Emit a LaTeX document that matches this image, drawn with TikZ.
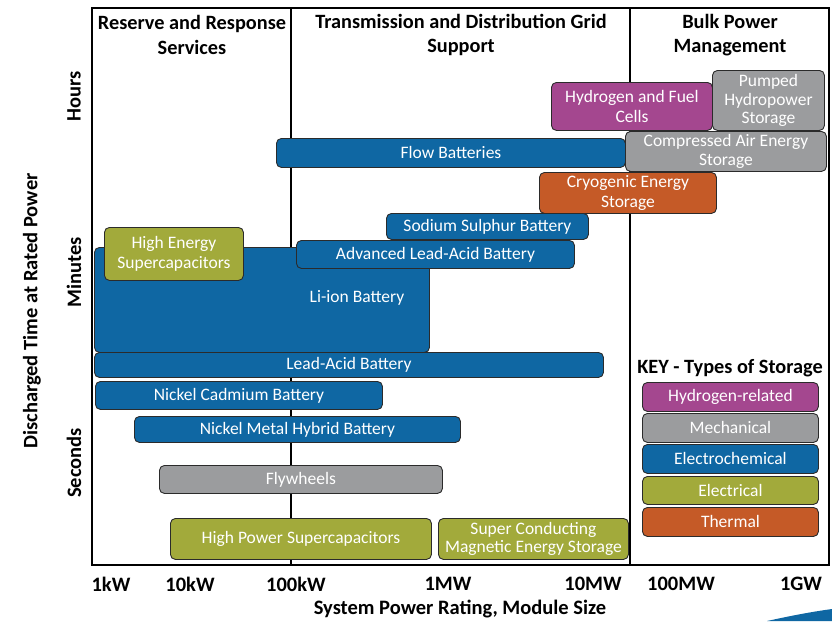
\documentclass[tikz,border=0pt]{standalone}
\usepackage{fontspec}
\setmainfont{Carlito}
\definecolor{cblue}{HTML}{0F67A3}
\definecolor{colive}{HTML}{A2AA3B}
\definecolor{cgray}{HTML}{9B9C9E}
\definecolor{cmag}{HTML}{A4478F}
\definecolor{corange}{HTML}{C55A27}
\definecolor{cedge}{HTML}{2B2B2B}
\begin{document}
\begin{tikzpicture}[x=1pt,y=-1pt,
  box/.style={draw=cedge, line width=0.9pt, rounded corners=5pt, text=white,
    align=center, inner sep=0pt, anchor=north west,
    font=\fontsize{17.5}{20}\selectfont},
  boxtext/.style={text=white, align=center, inner sep=0pt,
    font=\fontsize{17.5}{20}\selectfont},
  hdr/.style={align=center, inner sep=0pt, font=\bfseries\fontsize{20.3}{24.5}\selectfont},
  tick/.style={inner sep=0pt, font=\bfseries\fontsize{20.5}{24}\selectfont},
  frameline/.style={line width=1.6pt, draw=black}
]
\useasboundingbox (0,0) rectangle (832,621);
% frame and dividers
\draw[frameline] (92,8) rectangle (829,565);
\coordinate (d1t) at (291,8); \coordinate (d1b) at (291,565);
\coordinate (d2t) at (630,8); \coordinate (d2b) at (630,565);
\draw[frameline] (d1t) -- (d1b);
\draw[frameline] (d2t) -- (d2b);
% headers
\node[hdr] (h1) at (192,35) {Reserve and Response\\Services};
\node[hdr] (h2) at (461,35) {Transmission and Distribution Grid\\Support};
\node[hdr] (h3) at (730,35) {Bulk Power\\Management};
% axis labels
\node[tick, rotate=90] (ylab) at (32,311) {Discharged Time at Rated Power};
\node[tick, rotate=90] (hours) at (74,96) {Hours};
\node[tick, rotate=90] (minutes) at (74,272) {Minutes};
\node[tick, rotate=90] (seconds) at (74,463) {Seconds};
\node[tick] (t1) at (111,584) {1kW};
\node[tick] (t2) at (190,584) {10kW};
\node[tick] (t3) at (296,584) {100kW};
\node[tick] (t4) at (448,584) {1MW};
\node[tick] (t5) at (593,584) {10MW};
\node[tick] (t6) at (681,584) {100MW};
\node[tick] (t7) at (801,584) {1GW};
\node[tick] (xlab) at (460,609) {System Power Rating, Module Size};
% storage boxes
\node[box, fill=cmag, minimum width=161, minimum height=48] (hyd) at (551,82) {Hydrogen and Fuel\\Cells};
\node[box, fill=cgray, minimum width=112, minimum height=60, font=\fontsize{17.5}{18.5}\selectfont] (pump) at (712,70) {Pumped\\Hydropower\\Storage};
\node[box, fill=cblue, minimum width=349, minimum height=29] (flow) at (276,138) {Flow Batteries};
\node[box, fill=cgray, minimum width=201, minimum height=40, font=\fontsize{17.5}{19}\selectfont] (caes) at (625,131) {Compressed Air Energy\\Storage};
\node[box, fill=corange, minimum width=177, minimum height=41] (cryo) at (539,172) {Cryogenic Energy\\Storage};
\node[box, fill=cblue, minimum width=202, minimum height=26] (nas) at (386,213) {Sodium Sulphur Battery};
\node[box, fill=cblue, minimum width=335, minimum height=105] (liion) at (94,247) {};
\node[boxtext] (liiontxt) at (357,298) {Li-ion Battery};
\node[box, fill=cblue, minimum width=278, minimum height=28] (ala) at (296,240) {Advanced Lead-Acid Battery};
\node[box, fill=colive, minimum width=139, minimum height=53] (hes) at (104,227) {High Energy\\Supercapacitors};
\node[box, fill=cblue, minimum width=509, minimum height=25] (lead) at (94,352) {Lead-Acid Battery};
\node[box, fill=cblue, minimum width=287, minimum height=28] (nicd) at (95,381) {Nickel Cadmium Battery};
\node[box, fill=cblue, minimum width=326, minimum height=26] (nimh) at (134,416) {Nickel Metal Hybrid Battery};
\node[box, fill=cgray, minimum width=283, minimum height=28] (fly) at (159,465) {Flywheels};
\node[box, fill=colive, minimum width=261, minimum height=41] (hps) at (170,518) {High Power Supercapacitors};
\node[box, fill=colive, minimum width=190, minimum height=41, font=\fontsize{17.5}{18.5}\selectfont] (smes) at (438,518) {Super Conducting\\Magnetic Energy Storage};
% key
\node[hdr] (keyt) at (730,368) {KEY - Types of Storage};
\node[box, fill=cmag, minimum width=176, minimum height=29] (k1) at (642,382) {Hydrogen-related};
\node[box, fill=cgray, minimum width=176, minimum height=29] (k2) at (642,413) {Mechanical};
\node[box, fill=cblue, minimum width=176, minimum height=29] (k3) at (642,444) {Electrochemical};
\node[box, fill=colive, minimum width=176, minimum height=28] (k4) at (642,476) {Electrical};
\node[box, fill=corange, minimum width=176, minimum height=29] (k5) at (642,507) {Thermal};
% swoosh
\fill[cblue] (767,621) .. controls (790,616) and (810,612) .. (832,609) -- (832,621) -- cycle;
\end{tikzpicture}
\end{document}
